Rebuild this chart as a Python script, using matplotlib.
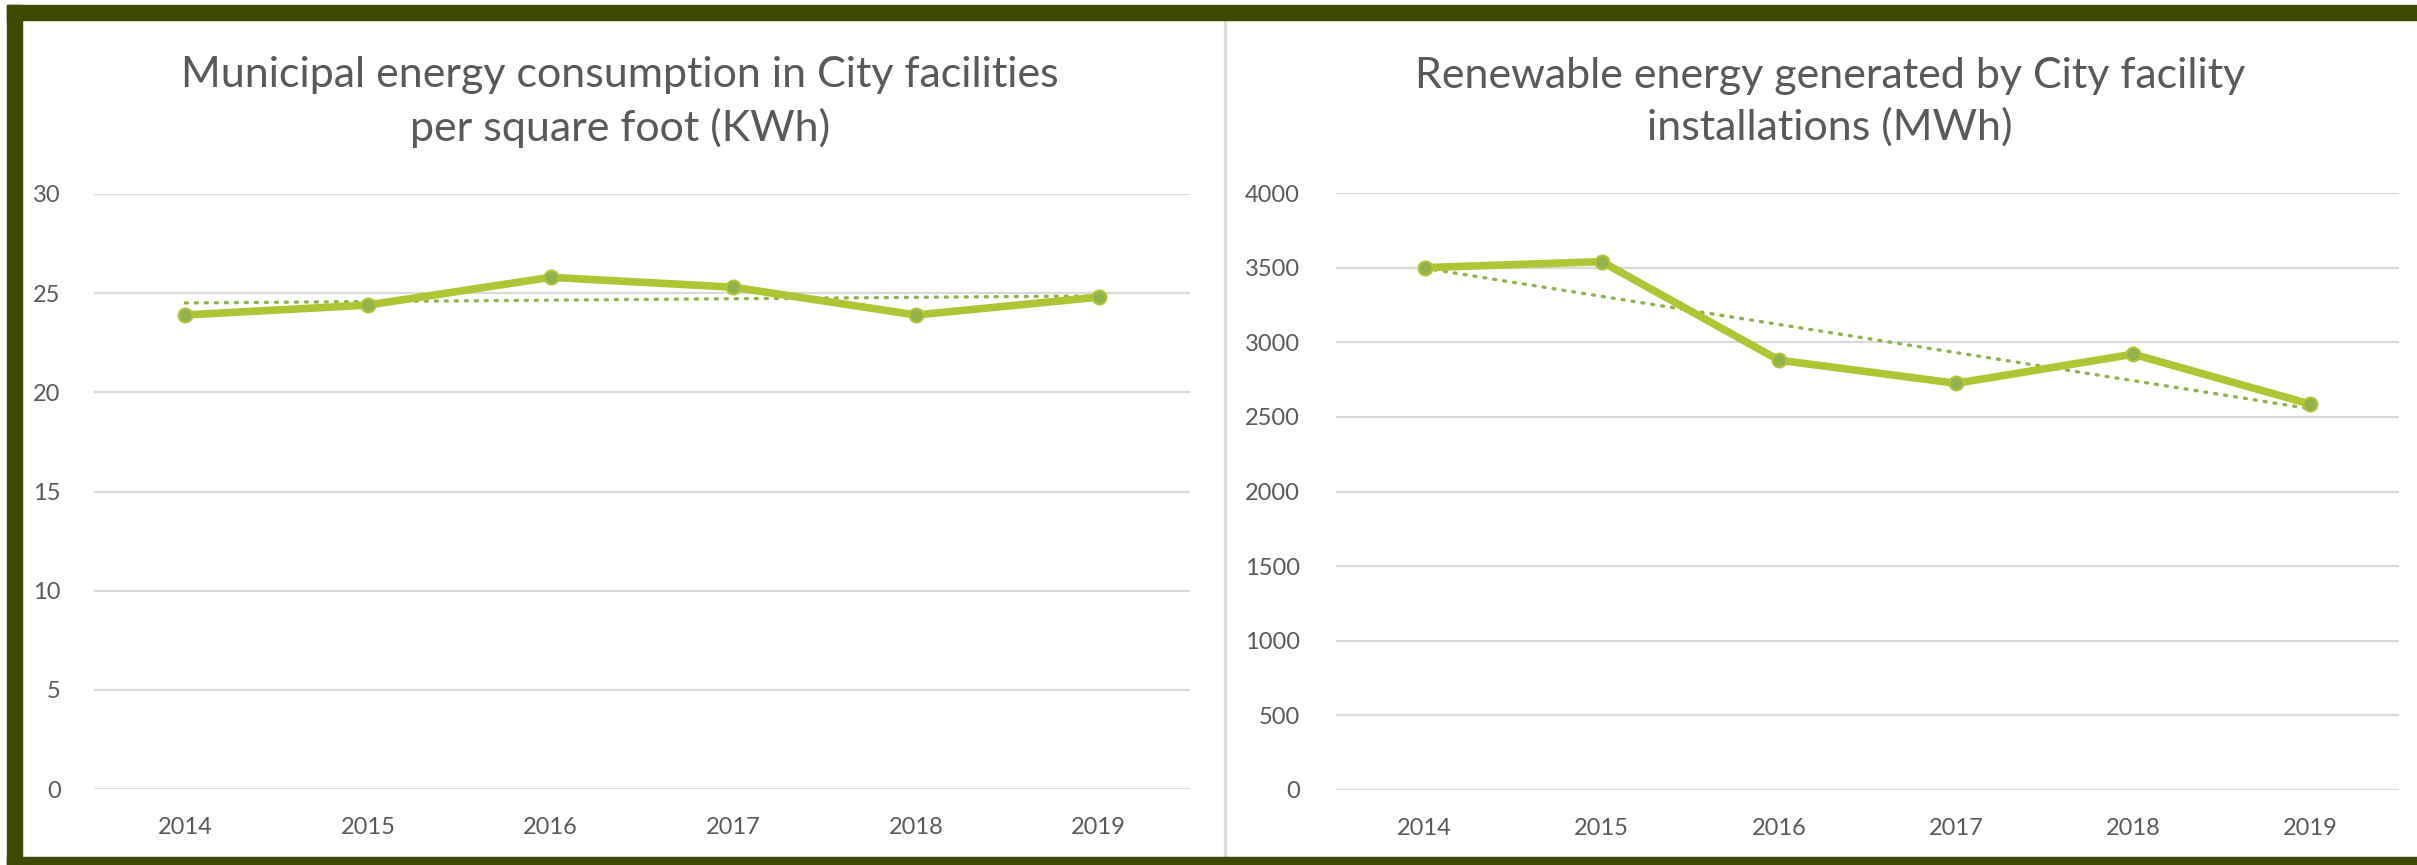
import numpy as np
import matplotlib
matplotlib.use("Agg")
import matplotlib.pyplot as plt
import matplotlib.patches as mpatches

# data
years = ["2014", "2015", "2016", "2017", "2018", "2019"]
kwh_per_sqft = [23.9, 24.4, 25.8, 25.3, 23.9, 24.8]
renewable_mwh = [3500, 3540, 2880, 2725, 2920, 2585]

title_left = "Municipal energy consumption in City facilities\nper square foot (KWh)"
title_right = "Renewable energy generated by City facility\ninstallations (MWh)"

W, H = 2417, 865
LINE_COLOR = "#afc534"
MARKER_COLOR = "#8fb24c"
TREND_COLOR = "#8fb24c"
TEXT_COLOR = "#595959"
GRID_COLOR = "#d9d9d9"
BORDER_COLOR = "#3c4a00"

plt.rcParams['font.family'] = ['Lato', 'DejaVu Sans']

fig = plt.figure(figsize=(W / 100, H / 100), dpi=100)
fig.patch.set_facecolor("white")


def px_axes(x0, y0, x1, y1):
    # pixel box (top-left origin) -> figure fraction
    return fig.add_axes([x0 / W, 1 - y1 / H, (x1 - x0) / W, (y1 - y0) / H])


def draw_panel(ax, values, ymax, ystep, title, title_x, pad):
    x = np.arange(len(values))
    ax.set_xlim(-0.5, len(values) - 0.5)
    ax.set_ylim(0, ymax)
    ax.set_yticks(np.arange(0, ymax + ystep / 2, ystep))
    ax.set_xticks(x)
    ax.set_xticklabels(years)
    ax.grid(axis="y", color=GRID_COLOR, linewidth=1.6)
    ax.set_axisbelow(True)
    for s in ax.spines.values():
        s.set_visible(False)
    ax.tick_params(length=0, labelsize=17, colors=TEXT_COLOR)
    ax.tick_params(axis="y", pad=pad)
    ax.tick_params(axis="x", pad=20)
    ax.set_facecolor("none")

    # linear trendline like the Excel one
    k, b = np.polyfit(x, values, 1)
    ax.plot(x, k * x + b, color=TREND_COLOR, linewidth=2.4,
            linestyle=(0, (0.6, 2.4)), dash_capstyle="round", zorder=2)
    ax.plot(x, values, color=LINE_COLOR, linewidth=5.5, marker="o",
            markersize=10, markerfacecolor=MARKER_COLOR,
            markeredgecolor=LINE_COLOR, markeredgewidth=1.5,
            solid_joinstyle="miter", zorder=3)

    fig.text(title_x / W, 1 - 102 / H, title, ha="center", va="center",
             fontsize=31, color=TEXT_COLOR, linespacing=1.4)


ax1 = px_axes(94, 194, 1190, 789)
draw_panel(ax1, kwh_per_sqft, 30, 5, title_left, 620, 24)

ax2 = px_axes(1336, 193, 2399, 790)
draw_panel(ax2, renewable_mwh, 4000, 500, title_right, 1830, 26)

# divider between the two charts
fig.add_artist(mpatches.Rectangle((1224 / W, 0), 2 / W, 1 - 20 / H,
                                  transform=fig.transFigure,
                                  color="#d9d9d9", zorder=0))

# dark olive frame (top, left, bottom)
fig.add_artist(mpatches.Rectangle((7 / W, 1 - 20 / H), 1, 15 / H,
                                  transform=fig.transFigure,
                                  color=BORDER_COLOR, zorder=5))
fig.add_artist(mpatches.Rectangle((7 / W, 0), 15 / W, 1 - 5 / H,
                                  transform=fig.transFigure,
                                  color=BORDER_COLOR, zorder=5))
fig.add_artist(mpatches.Rectangle((7 / W, 0), 1, 8 / H,
                                  transform=fig.transFigure,
                                  color=BORDER_COLOR, zorder=5))

fig.savefig("out.png", dpi=100, facecolor="white")
